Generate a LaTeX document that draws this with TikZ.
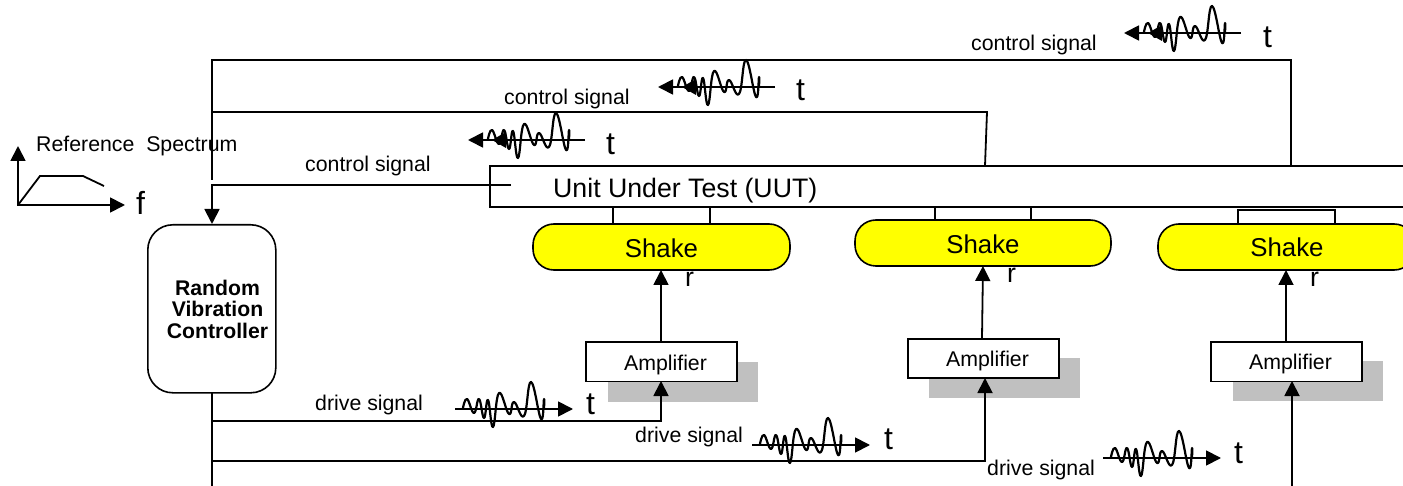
\documentclass[tikz,border=0pt]{standalone}
\usepackage{fontspec}
\setmainfont{Liberation Sans}
\usetikzlibrary{arrows.meta,calc}
\definecolor{shk}{RGB}{255,255,0}
\definecolor{shd}{RGB}{192,192,192}
\tikzset{
  x=1pt,y=-1pt,
  ln/.style={line width=1.8pt,draw=black},
  arr/.style={ln,-{Triangle[length=15pt,width=15pt]}},
  lbl/.style={inner sep=0pt,anchor=base west,font=\fontsize{21.3}{24}\selectfont},
  big/.style={inner sep=0pt,anchor=base west,font=\fontsize{26.7}{28}\selectfont},
  huge/.style={inner sep=0pt,anchor=base west,font=\fontsize{32}{34}\selectfont},
  shaker/.style={draw=black,line width=1.6pt,fill=shk,rounded corners=21pt},
  boxw/.style={draw=black,line width=1.8pt,fill=white},
  ampbox/.style={boxw,minimum height=39pt,inner sep=0pt,anchor=north west},
  amptxt/.style={inner sep=0pt,font=\fontsize{21.3}{24}\selectfont},
  shktxt/.style={inner sep=0pt,font=\fontsize{25.8}{28}\selectfont},
  shadow/.style={fill=shd,draw=none},
  wave/.pic={\draw[line width=2.2pt,line join=round] plot[smooth,tension=0.75] coordinates{(8,-1)(12,-10)(19,4)(24,-10)(29,9)(33,-9)(38,18)(44,-16)(54,5)(59,-7)(69,7)(76,-27)(86,10)(89,-10)(89,0)};},
}
\begin{document}
\begin{tikzpicture}
\useasboundingbox (0,0) rectangle (1403,486);
\clip (0,0) rectangle (1403,486);

% free ends and junctions
\coordinate (topL) at (212,60);
\coordinate (topR) at (1291,60);
\coordinate (midL) at (212,112);
\coordinate (midR) at (987,112);
\coordinate (ctlL) at (212,185);
\coordinate (ctlS) at (511,185);
\coordinate (stub) at (212,180);
\coordinate (botE) at (212,486);
\coordinate (d1) at (212,421);
\coordinate (d2) at (212,461);
\coordinate (d3e) at (1292,486);
\coordinate (u2) at (985,166);
\coordinate (u3) at (1291,166);

% shadows
\fill[shadow] (608,362) rectangle (758,402);
\fill[shadow] (929,358) rectangle (1080,398);
\fill[shadow] (1233,361) rectangle (1383,401);

% UUT
\draw[boxw] (490,166) rectangle (1420,207);
\node[big] (uut) at (553,198) {Unit Under Test (UUT)};

% mounts
\draw[ln] (613,207) rectangle (710,224);
\draw[ln] (935,207) rectangle (1031,220);
\draw[ln] (1238,210) rectangle (1335,224);

% shakers
\draw[shaker] (533,224) rectangle (790,270);
\draw[shaker] (855,220) rectangle (1111,266);
\draw[shaker] (1158,224) rectangle (1415,270);
\node[shktxt] (s1) at (661.5,248) {Shake};
\node[shktxt] (s2) at (983,244) {Shake};
\node[shktxt] (s3) at (1287,247.5) {Shake};
\node[big] (r1) at (685,287) {r};
\node[big] (r2) at (1007,283) {r};
\node[big] (r3) at (1310,287) {r};
\coordinate (s1b) at (661,270);
\coordinate (s2b) at (983,266);
\coordinate (s3b) at (1286,270);

% amplifiers
\node[ampbox,minimum width=151pt] (a1) at (585,341.5) {};
\node[ampbox,minimum width=151pt] (a2) at (907,338) {};
\node[ampbox,minimum width=151pt] (a3) at (1210,341.5) {};
\node[amptxt] (a1t) at (665.5,364.5) {Amplifier};
\node[amptxt] (a2t) at (987.5,360.5) {Amplifier};
\node[amptxt] (a3t) at (1290.5,363.5) {Amplifier};

% controller
\node[draw=black,line width=1.6pt,fill=white,rounded corners=25pt,minimum width=128pt,minimum height=168pt,inner sep=0pt,anchor=north west] (rvc) at (147,224) {};
\node[inner sep=0pt,align=center,font=\fontsize{21.2}{21.5}\selectfont\bfseries] (rvct) at (217.5,309) {Random\\Vibration\\Controller};

% feedback
\draw[ln] (stub) -- (topL) -- (topR) -- (u3);
\draw[ln] (midL) -- (midR) -- (u2);
\draw[arr] (ctlS) -- (ctlL) -- (212,224);

% amplifier to shaker
\draw[arr] (661,342) -- (s1b);
\draw[arr] (982,338) -- (s2b);
\draw[arr] (1286,342) -- (s3b);

% drive
\draw[ln] (212,392) -- (botE);
\draw[arr] (d1) -- (661,421) -- (661,381);
\draw[arr] (d2) -- (985,461) -- (985,378);
\draw[arr] (d3e) -- (1292,381);

% labels
\node[lbl] (t0) at (36,152) {Reference\ \ Spectrum};
\node[lbl] (c1) at (305,172) {control signal};
\node[lbl] (c2) at (504,105) {control signal};
\node[lbl] (c3) at (971,51) {control signal};
\node[lbl] (d1l) at (315,410) {drive signal};
\node[lbl] (d2l) at (635,442) {drive signal};
\node[lbl] (d3l) at (987,475) {drive signal};

% spectrum
\draw[ln,{Triangle[length=15pt,width=15pt]}-{Triangle[length=15pt,width=15pt]},line join=miter] (18,146) -- (18,205) -- (125,205);
\draw[ln] (18,205) -- (40,176) -- (83,176) -- (104,186);
\node[huge] (f) at (136,215) {f};

% waves
\draw[arr] (455,409) -- (573,409);
\pic at (455,409) {wave};
\node[huge] at (586,414) {t};
\draw[arr] (752,445) -- (870,445);
\pic at (752,445) {wave};
\node[huge] at (884,449) {t};
\draw[arr] (1103,458) -- (1221,458);
\pic at (1103,458) {wave};
\node[huge] at (1234,463) {t};
\foreach \x/\y in {1241/33,775/87,585/140}{
  \pic at (\x-105,\y) {wave};
  \draw[arr] (\x,\y) -- (\x-117,\y);
  \fill (\x-79,\y-8) -- (\x-79,\y+8) -- (\x-93,\y) -- cycle;
}
\node[huge] at (1263,48) {t};
\node[huge] at (796,101) {t};
\node[huge] at (606,155) {t};
\end{tikzpicture}
\end{document}
